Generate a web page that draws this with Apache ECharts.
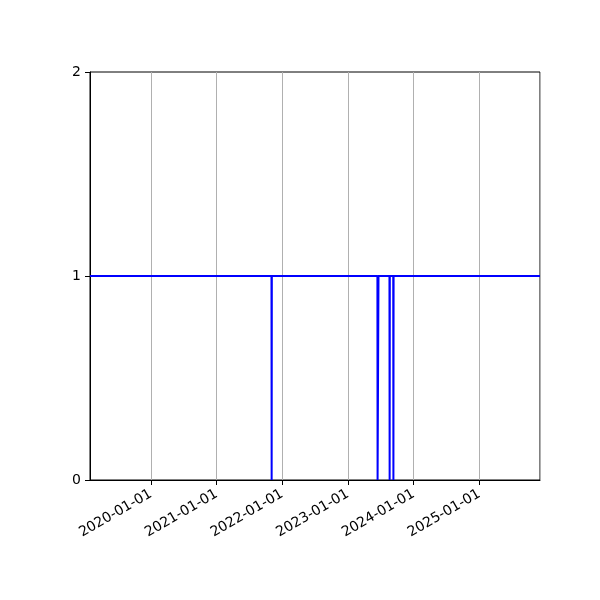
<!DOCTYPE html>
<html>
<head>
<meta charset="utf-8">
<script src="https://cdn.jsdelivr.net/npm/echarts@6/dist/echarts.min.js"></script>
<style>html,body{margin:0;padding:0;background:#fff}#c{width:600px;height:600px}</style>
</head>
<body>
<div id="c"></div>
<script>
const dates = ['2019-01-28','2021-11-02','2021-11-03','2021-11-04','2023-06-14','2023-06-15','2023-06-19','2023-06-20','2023-08-20','2023-08-21','2023-08-22','2023-09-10','2023-09-11','2023-09-12','2025-12-04'];
const values = [1,1,0,1,1,0,0,1,1,0,1,1,0,1,1];
const yTicks = [0,1,2];
const xMin = '2019-01-28';
const xMax = '2025-12-04';

const chart = echarts.init(document.getElementById('c'));
chart.setOption({
  animation:false,
  grid:{left:90,right:60,top:72,bottom:120,show:true,borderColor:'#000',borderWidth:1,backgroundColor:'transparent'},
  xAxis:{type:'time',min:xMin,max:xMax,minInterval:365*86400000,maxInterval:366*86400000,
    axisLine:{lineStyle:{color:'#000',width:1}},
    axisTick:{show:true,length:5,lineStyle:{color:'#000'}},
    splitLine:{show:true,lineStyle:{color:'#b0b0b0',width:1}},
    axisLabel:{rotate:30,color:'#000',fontFamily:'DejaVu Sans',fontSize:14,margin:13,formatter:'{yyyy}-{MM}-{dd}',showMinLabel:false,showMaxLabel:false,hideOverlap:false}
  },
  yAxis:{type:'value',min:0,max:2,interval:1,
    axisLine:{show:true,lineStyle:{color:'#000',width:1}},
    axisTick:{show:true,length:5,lineStyle:{color:'#000'}},
    splitLine:{show:false},
    axisLabel:{color:'#000',fontFamily:'DejaVu Sans',fontSize:14,margin:9,formatter:v=>yTicks.includes(v)?String(v):''}
  },
  series:[{type:'line',data:dates.map((d,i)=>[d,values[i]]),showSymbol:false,
    lineStyle:{color:'#0000ff',width:2},itemStyle:{color:'#0000ff'}}]
});
</script>
</body>
</html>
